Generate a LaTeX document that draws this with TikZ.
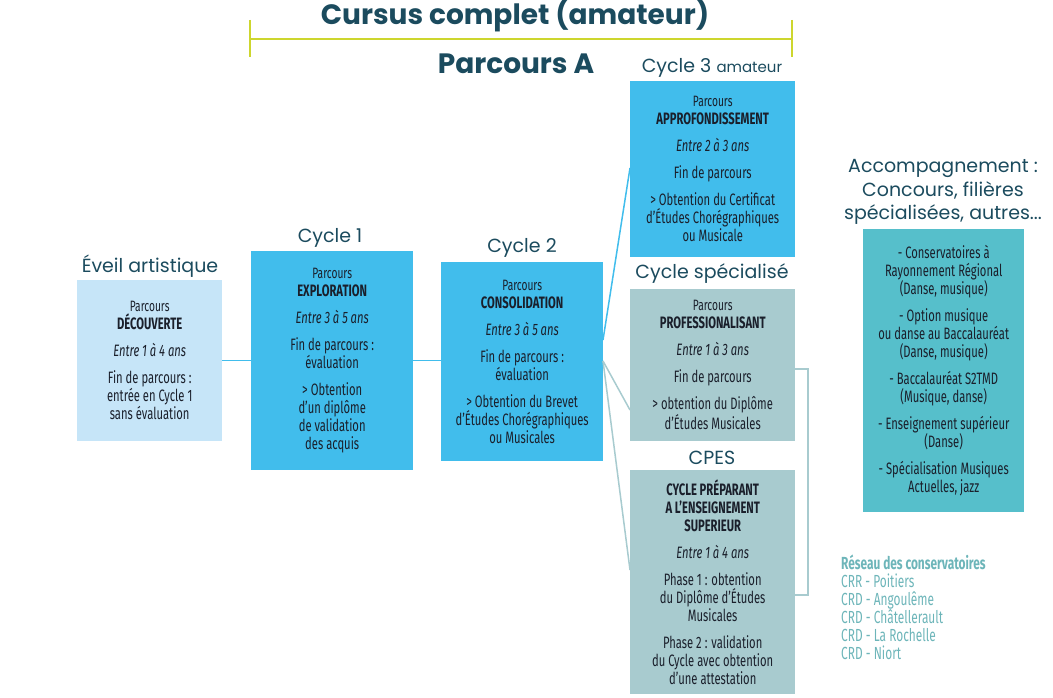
\documentclass[tikz,border=0pt]{standalone}
\usepackage{fontspec}
\setmainfont{Fira Sans}[FakeStretch=0.68]
\newfontfamily\poppins{Poppins}
\usetikzlibrary{calc}
\definecolor{ttl}{HTML}{1B4B5E}
\definecolor{ylw}{HTML}{CDD62E}
\definecolor{lblue}{HTML}{C6E5F8}
\definecolor{cblue}{HTML}{41BDEC}
\definecolor{cgray}{HTML}{A8CBCF}
\definecolor{cacc}{HTML}{56BFCB}
\definecolor{txt}{HTML}{1A1F2B}
\definecolor{net}{HTML}{6DB5B9}
\newcommand{\parc}{{\fontsize{15}{16}\selectfont Parcours}}
\tikzset{
  box/.style={inner sep=0pt, anchor=north west, align=center, text=txt,
    font=\fontsize{16.5}{18}\selectfont},
  lbl/.style={inner sep=0pt, text=ttl, font=\poppins\fontsize{19}{23.5}\selectfont, align=center},
  big/.style={inner sep=0pt, text=ttl, font=\poppins\bfseries\fontsize{28}{30}\selectfont},
  bline/.style={draw=cblue, line width=1.5pt},
  gline/.style={draw=cgray, line width=1.5pt},
  yline/.style={draw=ylw, line width=2.5pt},
}
\begin{document}
\begin{tikzpicture}[x=1pt,y=-1pt]
\useasboundingbox (0,0) rectangle (1053,698);
% titles
\node[big] (t1) at (515,15) {Cursus complet (amateur)};
\node[big] (t2) at (516,64) {Parcours A};
\coordinate (yl1) at (250,20);
\coordinate (yl2) at (250,39);
\coordinate (yl3) at (250,57);
\coordinate (yr1) at (792,20);
\coordinate (yr2) at (792,39);
\coordinate (yr3) at (792,57);
\draw[yline] (yl1) -- (yl3);
\draw[yline] (yr1) -- (yr3);
\draw[yline] (yl2) -- (yr2);
% boxes
\node[box, fill=lblue, minimum width=145pt, minimum height=161pt] (ev) at (77,280)
 {\parc\\\textbf{DÉCOUVERTE}\\[9pt]\textit{Entre 1 à 4 ans}\\[9pt]Fin de parcours :\\entrée en Cycle 1\\sans évaluation};
\node[box, fill=cblue, minimum width=162pt, minimum height=219pt] (c1) at (251,251)
 {\parc\\\textbf{EXPLORATION}\\[9pt]\textit{Entre 3 à 5 ans}\\[9pt]Fin de parcours :\\évaluation\\[9pt]> Obtention\\d'un diplôme\\de validation\\des acquis};
\node[box, fill=cblue, minimum width=162pt, minimum height=199pt] (c2) at (441,262)
 {\parc\\\textbf{CONSOLIDATION}\\[9pt]\textit{Entre 3 à 5 ans}\\[9pt]Fin de parcours :\\évaluation\\[9pt]> Obtention du Brevet\\d'Études Chorégraphiques\\ou Musicales};
\node[box, fill=cblue, minimum width=165pt, minimum height=176pt] (c3) at (630,81)
 {\parc\\\textbf{APPROFONDISSEMENT}\\[9pt]\textit{Entre 2 à 3 ans}\\[9pt]Fin de parcours\\[9pt]> Obtention du Certificat\\d'Études Chorégraphiques\\ou Musicale};
\node[box, fill=cgray, minimum width=165pt, minimum height=152pt] (pro) at (630,289)
 {\parc\\\textbf{PROFESSIONALISANT}\\[9pt]\textit{Entre 1 à 3 ans}\\[9pt]Fin de parcours\\[9pt]> obtention du Diplôme\\d'Études Musicales};
\node[box, fill=cgray, minimum width=165pt, minimum height=224pt] (cpes) at (630,470)
 {\textbf{CYCLE PRÉPARANT}\\\textbf{A L'ENSEIGNEMENT}\\\textbf{SUPERIEUR}\\[9pt]\textit{Entre 1 à 4 ans}\\[9pt]Phase 1 : obtention\\du Diplôme d'Études\\Musicales\\[9pt]Phase 2 : validation\\du Cycle avec obtention\\d'une attestation};
\node[box, fill=cacc, minimum width=161pt, minimum height=283pt] (acc) at (863,229)
 {- Conservatoires à\\Rayonnement Régional\\(Danse, musique)\\[9pt]- Option musique\\ou danse au Baccalauréat\\(Danse, musique)\\[9pt]- Baccalauréat S2TMD\\(Musique, danse)\\[9pt]- Enseignement supérieur\\(Danse)\\[9pt]- Spécialisation Musiques\\Actuelles, jazz};
% labels
\node[lbl] (lev) at (150,266) {Éveil artistique};
\node[lbl] (lc1) at (330,238) {Cycle 1};
\node[lbl] (lc2) at (522,248) {Cycle 2};
\node[lbl] (lc3) at (712,68) {Cycle 3 {\fontsize{15}{18}\selectfont amateur}};
\node[lbl] (lsp) at (712,274) {Cycle spécialisé};
\node[lbl] (lcp) at (712,458) {CPES};
\node[lbl] (lacc) at (943,192) {Accompagnement :\\Concours, filières\\spécialisées, autres...};
% network
\node[inner sep=0pt, anchor=north west, align=left, text=net, font=\fontsize{17.5}{18}\selectfont] (res) at (841,555)
 {\textbf{Réseau des conservatoires}\\CRR - Poitiers\\CRD - Angoulême\\CRD - Châtellerault\\CRD - La Rochelle\\CRD - Niort};
% connectors
\draw[bline] (ev.east) -- (c1.west);
\draw[bline] (c1.east) -- (c1.east -| c2.west);
\coordinate (o1) at (603,340);
\coordinate (o2) at (603,361);
\coordinate (i3) at (630,168);
\coordinate (ip) at (630,410);
\coordinate (ic) at (630,570);
\draw[bline] (o1) -- (i3);
\draw[gline] (o2) -- (ip);
\draw[gline] (o2) -- (ic);
\coordinate (b1) at (795,369);
\coordinate (b2) at (808,369);
\coordinate (b3) at (808,595);
\coordinate (b4) at (795,595);
\draw[gline] (b1) -- (b2) -- (b3) -- (b4);
\end{tikzpicture}
\end{document}
